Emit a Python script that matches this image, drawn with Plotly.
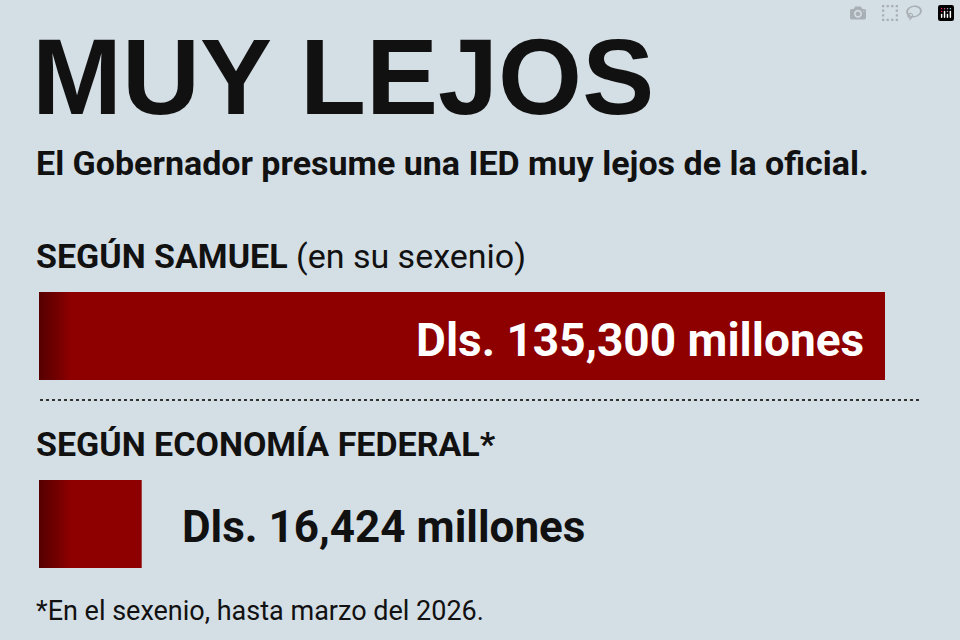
import plotly.graph_objects as go

sources = ["Según Samuel", "Según Economía Federal"]
values = [135300, 16424]
value_labels = ["Dls. 135,300 millones", "Dls. 16,424 millones"]

BG = "#d4dee5"
RED = "#8e0000"
NARROW = "Roboto, sans-serif"

fig = go.Figure()
fig.add_trace(go.Bar(
    x=values, y=[336, 524], orientation="h", width=88,
    marker=dict(color=RED, line=dict(width=0)),
    hoverinfo="skip", showlegend=False,
))
fig.update_layout(
    width=960, height=640, margin=dict(l=0, r=0, t=0, b=0),
    paper_bgcolor=BG, plot_bgcolor=BG,
    xaxis=dict(domain=[39/960, 885/960], range=[0, values[0]], visible=False, fixedrange=True),
    yaxis=dict(range=[640, 0], visible=False, fixedrange=True),
)
# subtle dark left edge shading on bars
for yc in [336, 524]:
    for i in range(12):
        fig.add_shape(type="rect", xref="x", yref="y",
                      x0=0, x1=values[0]*0.003*(i+1), y0=yc-44, y1=yc+44,
                      fillcolor="black", opacity=0.035, line_width=0, layer="above")

def txt(x, y, t, size, color="#111", font="Liberation Sans, sans-serif", anchor="left", yanchor="middle"):
    fig.add_annotation(x=x/960, y=1-y/640, xref="paper", yref="paper", text=t, showarrow=False,
                       xanchor=anchor, yanchor=yanchor, font=dict(size=size, color=color, family=font))

txt(30, 76, "<b>MUY LEJOS</b>", 108)
txt(34, 163, "<b>El Gobernador presume una IED muy lejos de la oficial.</b>", 34, font=NARROW)
txt(34, 256, "<b>SEGÚN SAMUEL</b> (en su sexenio)", 34, font=NARROW)
txt(866, 340, "<b>" + value_labels[0] + "</b>", 46, color="white", font=NARROW, anchor="right")
fig.add_shape(type="line", xref="paper", yref="paper", x0=40/960, x1=922/960,
              y0=1-400/640, y1=1-400/640, line=dict(color="#333", width=2, dash="dot"))
txt(34, 444, "<b>SEGÚN ECONOMÍA FEDERAL*</b>", 34, font=NARROW)
txt(180, 527, "<b>" + value_labels[1] + "</b>", 44, font=NARROW)
txt(34, 611, "*En el sexenio, hasta marzo del 2026.", 27, font=NARROW)

fig.write_html("out.html", post_script="document.body.style.margin='0';")
